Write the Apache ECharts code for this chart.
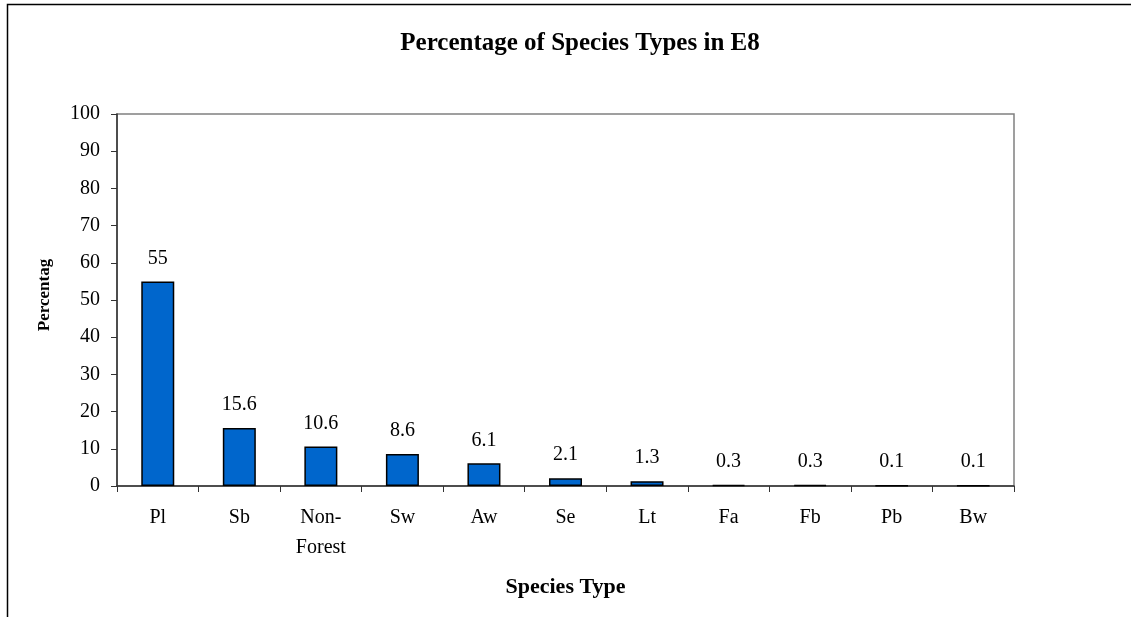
<!DOCTYPE html>
<html>
<head>
<meta charset="utf-8">
<script src="https://cdn.jsdelivr.net/npm/echarts@6/dist/echarts.min.js"></script>
<style>
  html, body { margin: 0; padding: 0; background: #fff; }
  #chart { width: 1131px; height: 617px; }
</style>
</head>
<body>
<div id="chart"></div>
<script>
// Species composition for stand E8
const categories = ['Pl', 'Sb', 'Non-\nForest', 'Sw', 'Aw', 'Se', 'Lt', 'Fa', 'Fb', 'Pb', 'Bw'];
const percentages = [55, 15.6, 10.6, 8.6, 6.1, 2.1, 1.3, 0.3, 0.3, 0.1, 0.1];
const yTicks = { min: 0, max: 100, step: 10 };

const serif = '"Liberation Serif", "Times New Roman", serif';

const chart = echarts.init(document.getElementById('chart'), null, { renderer: 'canvas' });

chart.setOption({
  backgroundColor: '#ffffff',
  animation: false,
  title: {
    text: 'Percentage of Species Types in E8',
    left: 575,
    top: 26,
    textAlign: 'center',
    textStyle: { fontFamily: serif, fontWeight: 'bold', fontSize: 25, color: '#000' }
  },
  graphic: [{
    type: 'rect',
    shape: { x: 7.5, y: 4.5, width: 1140, height: 640 },
    style: { fill: 'none', stroke: '#000', lineWidth: 1.5 },
    silent: true
  }],
  grid: {
    left: 117, right: 117, top: 114, bottom: 131,
    show: true, borderColor: '#808080', borderWidth: 1.5
  },
  xAxis: {
    type: 'category',
    data: categories,
    name: 'Species Type',
    nameLocation: 'middle',
    nameGap: 90,
    nameTextStyle: { fontFamily: serif, fontWeight: 'bold', fontSize: 22, color: '#000' },
    axisLine: { lineStyle: { color: '#333', width: 1.5 } },
    axisTick: { show: true, length: 6, interval: 0, lineStyle: { color: '#333' } },
    axisLabel: { interval: 0, margin: 17, fontFamily: serif, fontSize: 20, color: '#000', lineHeight: 30 }
  },
  yAxis: {
    type: 'value',
    min: yTicks.min, max: yTicks.max, interval: yTicks.step,
    name: 'Percentag',
    nameLocation: 'middle',
    nameRotate: 90,
    nameGap: 64,
    nameTextStyle: { fontFamily: serif, fontWeight: 'bold', fontSize: 17, color: '#000', padding: [0, 0, 0, 10] },
    axisLine: { show: true, lineStyle: { color: '#333', width: 1.5 } },
    axisTick: { show: true, length: 6, lineStyle: { color: '#333' } },
    axisLabel: { margin: 17, fontFamily: serif, fontSize: 20, color: '#000' },
    splitLine: { show: false }
  },
  series: [{
    type: 'bar',
    data: percentages,
    barWidth: 33,
    itemStyle: { color: '#0066CC', borderColor: '#000', borderWidth: 1.5 },
    label: {
      show: true, position: 'top', distance: 13,
      fontFamily: serif, fontSize: 20, color: '#000'
    }
  }]
});
</script>
</body>
</html>
